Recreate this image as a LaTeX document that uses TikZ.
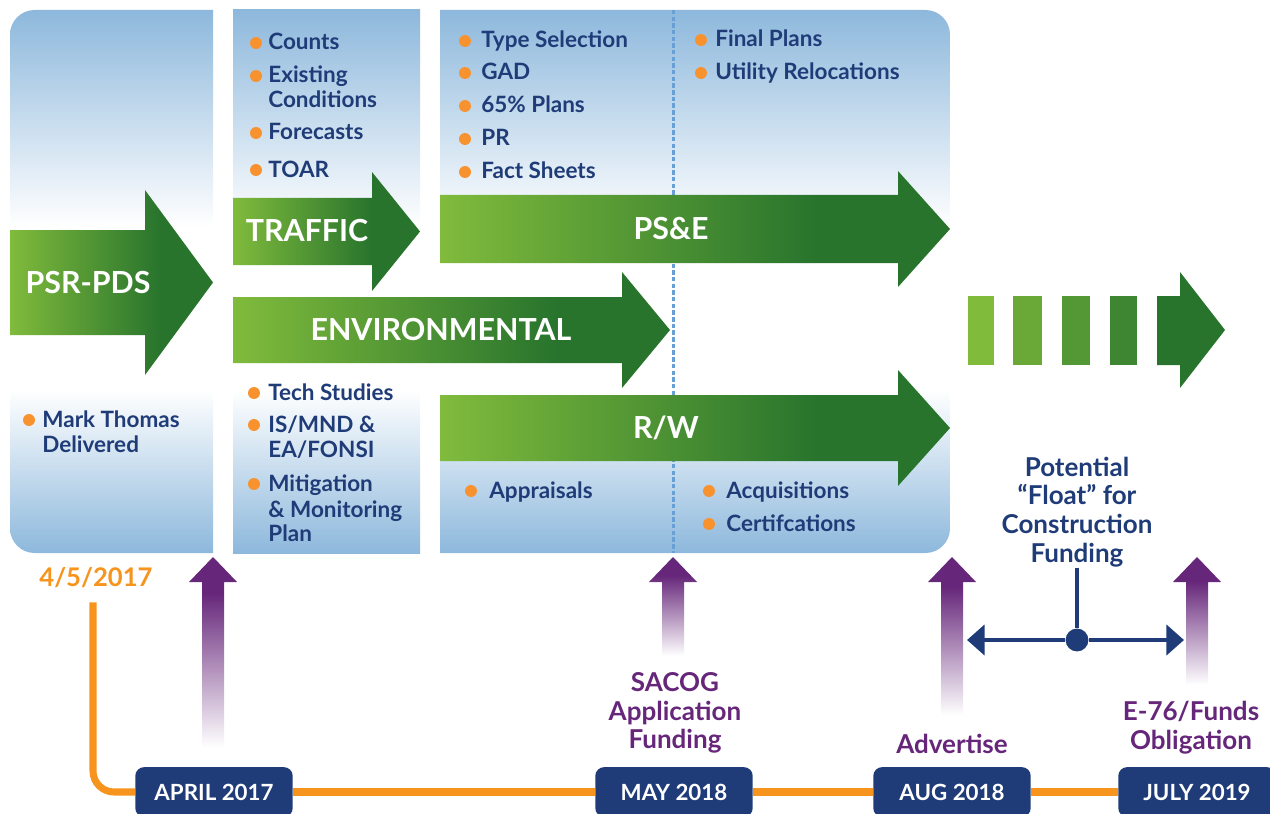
\documentclass[tikz,border=0pt]{standalone}
\usepackage{fontspec}
\setmainfont{Lato}
\usetikzlibrary{arrows.meta, positioning, calc}

% colours
\definecolor{panelblue}{RGB}{141,184,220}
\definecolor{glight}{RGB}{128,187,60}
\definecolor{gdark}{RGB}{40,116,45}
\definecolor{navy}{RGB}{31,60,120}
\definecolor{dotorange}{RGB}{247,146,47}
\definecolor{lineorange}{RGB}{247,148,30}
\definecolor{plum}{RGB}{102,38,122}
\definecolor{divider}{RGB}{104,160,214}

% fades (the middle 25bp..75bp is stretched over the path)
\pgfdeclareverticalshading{panelfade}{100bp}{color(0bp)=(panelblue); color(25bp)=(panelblue);
  color(40bp)=(white); color(55bp)=(white); color(75bp)=(panelblue); color(100bp)=(panelblue)}
\pgfdeclarehorizontalshading{greenfade}{100bp}{color(0bp)=(glight); color(25bp)=(glight);
  color(62bp)=(gdark); color(100bp)=(gdark)}
\pgfdeclareverticalshading{plumfade}{100bp}{color(0bp)=(white); color(27bp)=(white);
  color(66bp)=(plum); color(100bp)=(plum)}

\newcommand{\itemfont}{\fontsize{12.8}{15}\selectfont\bfseries}
\newcommand{\arrowfont}{\fontsize{17.3}{20}\selectfont\bfseries}
\newcommand{\datefont}{\fontsize{12.7}{15}\selectfont\bfseries}
\newcommand{\notefont}{\fontsize{14.8}{16.4}\selectfont\bfseries}

\tikzset{
  panel/.style     = {shading=panelfade},
  greenbar/.style  = {shading=greenfade},
  plumbar/.style   = {shading=plumfade},
  arrowlabel/.style= {text=white, font=\arrowfont, inner sep=0pt},
  item/.style      = {anchor=base west, inner sep=0pt, text=navy, font=\itemfont},
  bullet/.style    = {fill=dotorange},
  datebox/.style   = {fill=navy, text=white, rounded corners=5pt, font=\datefont,
                      minimum width=89.6pt, minimum height=28.3pt, inner sep=0pt},
  timeline/.style  = {draw=lineorange, line width=4pt, rounded corners=12pt}
}

% block arrow: left, body top, body bottom, head base, tip, head overhang
\newcommand{\greenarrow}[6]{%
  \shade[greenbar] (#1,#2) -- (#4,#2) -- (#4,#2-#6) -- (#5,{(#2+#3)/2})
    -- (#4,#3+#6) -- (#4,#3) -- (#1,#3) -- cycle;}
% upward milestone arrow: centre x, foot
\newcommand{\plumarrow}[2]{%
  \shade[plumbar] (#1-11,#2) -- (#1-11,582) -- (#1-24,582) -- (#1,557)
    -- (#1+24,582) -- (#1+11,582) -- (#1+11,#2) -- cycle;}

\begin{document}
\begin{tikzpicture}[x=0.02cm, y=-0.02cm,
    note/.style  = {text=plum, font=\notefont, align=center, inner sep=0pt},
    float/.style = {text=navy, font=\notefont, align=center, inner sep=0pt},
    floatarrow/.style = {draw=navy, line width=2.8pt, -{Triangle[length=10pt,width=17pt]}}
]
\useasboundingbox (0,0) rectangle (1270,814);

% Panels
\begin{scope}
  \clip (10,10) rectangle (213,553);
  \shade[panel, rounded corners=14pt] (10,10) rectangle (260,553);
\end{scope}
\shade[panel] (233,10) rectangle (420,553);
\begin{scope}
  \clip (440,10) rectangle (950,553);
  \shade[panel, rounded corners=14pt] (400,10) rectangle (950,553);
\end{scope}
\draw[divider, line width=1.7pt, dash pattern=on 2.5pt off 1.3pt] (673,10) -- (673,553);

% Phase arrows
\greenarrow{10}{230}{335}{145}{213}{40}
\greenarrow{233}{198}{265}{372}{420}{26}
\greenarrow{440}{195}{263}{898}{950}{24}
\greenarrow{233}{297}{363}{622}{670}{25}
\greenarrow{440}{395}{461}{898}{950}{25}

\node[arrowlabel] (psr) at (88,283) {PSR-PDS};
\node[arrowlabel] (traffic) at (307,231) {TRAFFIC};
\node[arrowlabel] (pse) at (671,229) {PS\&E};
\node[arrowlabel] (env) at (441,330) {ENVIRONMENTAL};
\node[arrowlabel] (rw) at (666,428) {R/W};

% Construction, still to come
\foreach \x/\w/\c in {968/26/0, 1013/29/25, 1062/28/50, 1110/27/75}
  \fill[gdark!\c!glight] (\x,296) rectangle ++(\w,69);
\fill[gdark] (1157,296) -- (1180,296) -- (1180,272) -- (1225,330)
  -- (1180,388) -- (1180,365) -- (1157,365) -- cycle;

% Task lists
\node[item] (mark-1) at (42,427) {Mark Thomas};
\node[item] (mark-2) at (42,452) {Delivered};
\fill[bullet] (29,420) circle (3.4pt);

\foreach \ty/\txt [count=\i] in {50/Counts, 83/Existing, 108/Conditions, 140/Forecasts, 177/TOAR}
  \node[item] (trf-\i) at (268,\ty) {\txt};
\foreach \by in {50,83,140,177}
  \fill[bullet] (256,\by-7) circle (3.4pt);

\foreach \ty/\txt [count=\i] in {400/Tech Studies, 432/{IS/MND \&}, 457/{EA/FONSI},
    491/Mitigation, 517/{\& Monitoring}, 541/Plan}
  \node[item] (envt-\i) at (268,\ty) {\txt};
\foreach \by in {400,432,491}
  \fill[bullet] (254,\by-7) circle (3.4pt);

\foreach \ty/\txt [count=\i] in {48/Type Selection, 80/GAD, 113/{65\% Plans}, 146/PR, 179/Fact Sheets}
  \node[item] (pse-\i) at (481,\ty) {\txt};
\foreach \by in {48,80,113,146,179}
  \fill[bullet] (465,\by-7) circle (3.4pt);

\node[item] (final-1) at (715,47) {Final Plans};
\node[item] (final-2) at (715,80) {Utility Relocations};
\foreach \by in {47,80}
  \fill[bullet] (701,\by-7) circle (3.4pt);

\node[item] (rw-1) at (489,498) {Appraisals};
\node[item] (rw-2) at (726,498) {Acquisitions};
\node[item] (rw-3) at (726,531) {Certifcations};
\fill[bullet] (471,491) circle (3.4pt);
\foreach \by in {498,531}
  \fill[bullet] (709,\by-7) circle (3.4pt);

% Milestones
\plumarrow{213}{755}
\plumarrow{673}{660}
\plumarrow{952}{722}
\plumarrow{1197}{690}

\node[note] (sacog) at (675,713) {SACOG\\Application\\Funding};
\node[note] (advert) at (952,744) {Advertise};
\node[note] (e76) at (1191,728) {E-76/Funds\\Obligation};

% Float between advertise and obligation
\node[float] (floattxt) at (1077,512) {Potential\\“Float” for\\Construction\\Funding};
\node[circle, fill=navy, minimum size=13pt, inner sep=0pt] (hub) at (1077,640) {};
\coordinate (floatL) at (967,640);
\coordinate (floatR) at (1184,640);
\draw[draw=navy, line width=2.8pt] (floattxt.south) -- (hub);
\draw[floatarrow] (hub) -- (floatL);
\draw[floatarrow] (hub) -- (floatR);

% Timeline
\node[text=lineorange, font=\fontsize{14.6}{16}\selectfont\bfseries, inner sep=0pt] (start) at (96,578) {4/5/2017};
\node[datebox] (apr) at (214,792) {APRIL 2017};
\node[datebox] (may) at (674,792) {MAY 2018};
\node[datebox] (aug) at (952,792) {AUG 2018};
\node[datebox] (jul) at (1197,792) {JULY 2019};

\draw[timeline] ($(start.south)+(-3,14)$) |- (apr.west);
\draw[timeline] (apr) -- (may);
\draw[timeline] (may) -- (aug);
\draw[timeline] (aug) -- (jul);

\end{tikzpicture}
\end{document}
